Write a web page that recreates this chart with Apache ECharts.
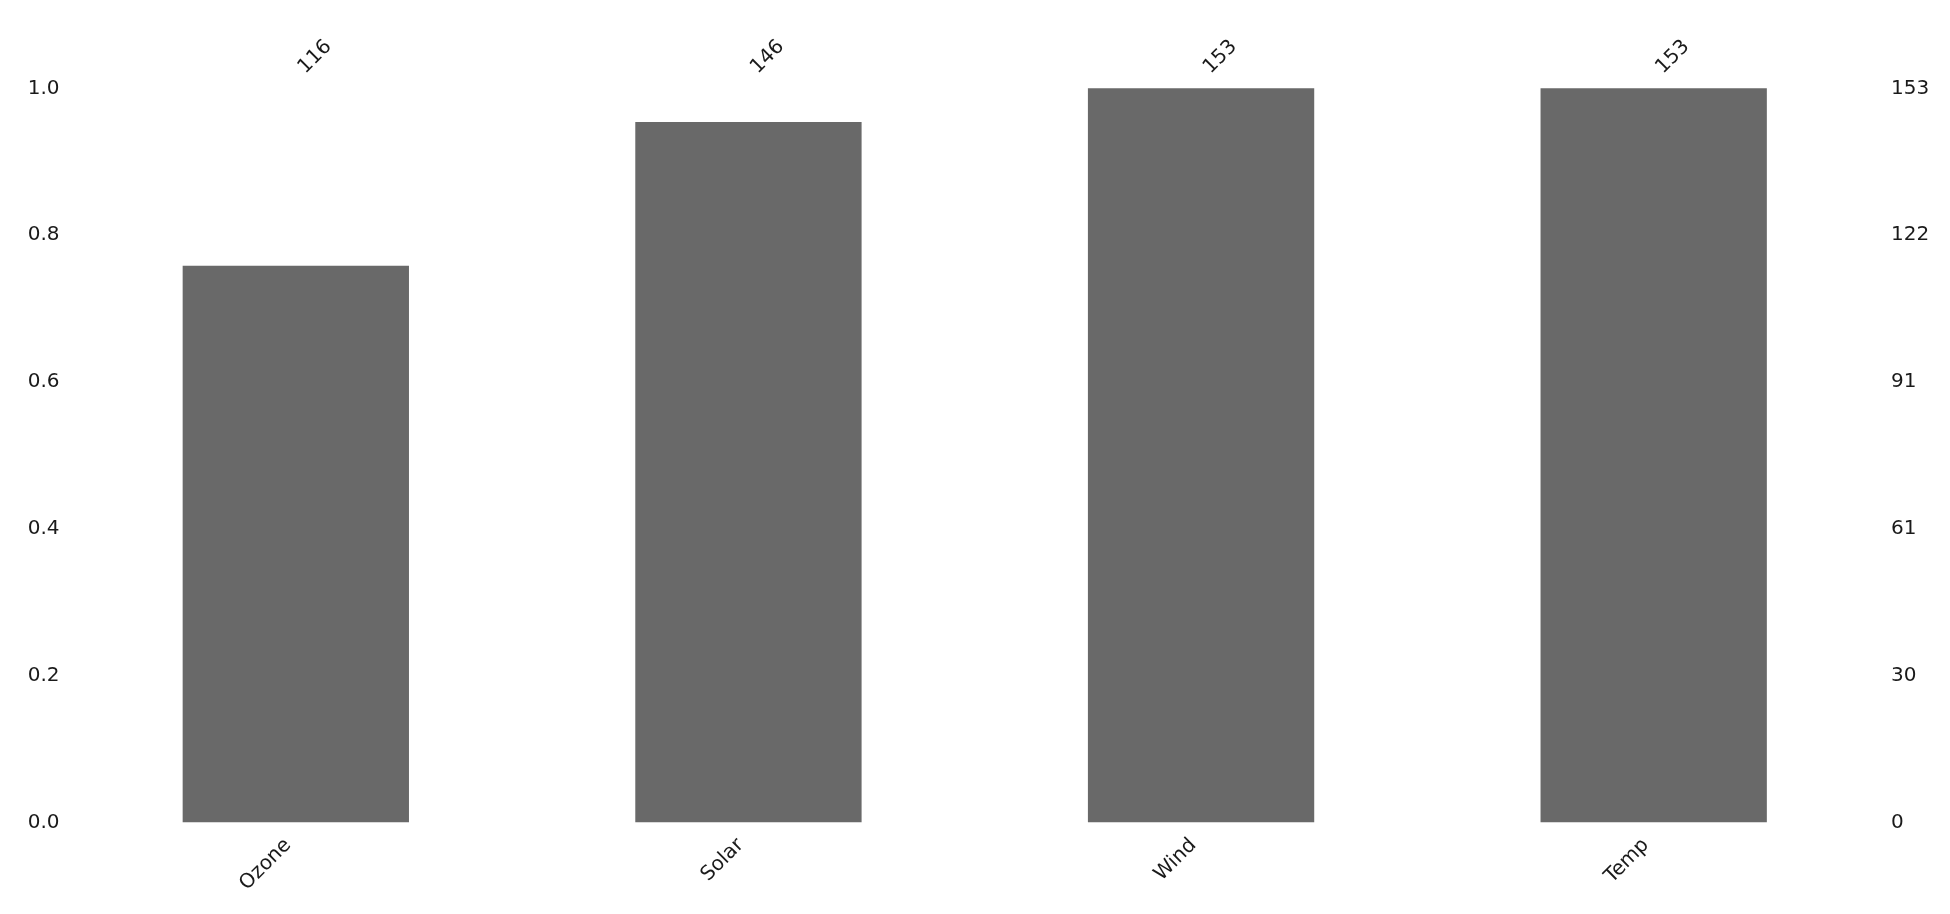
<!DOCTYPE html>
<html>
<head>
<meta charset="utf-8">
<script src="https://cdn.jsdelivr.net/npm/echarts@6/dist/echarts.min.js"></script>
<style>html,body{margin:0;padding:0;background:#fff;}#chart{width:1950px;height:914px;}</style>
</head>
<body>
<div id="chart"></div>
<script>
const categories = ['Ozone', 'Solar', 'Wind', 'Temp'];
const counts = [116, 146, 153, 153];
const totalRows = 153;
const leftTickLabels = ['0.0', '0.2', '0.4', '0.6', '0.8', '1.0'];
const rightTickLabels = ['0', '30', '61', '91', '122', '153'];

const fractions = counts.map(c => c / totalRows);
const font = 'DejaVu Sans';
const txt = '#1a1a1a';
const fs = 20;

const chart = echarts.init(document.getElementById('chart'), null, {renderer: 'canvas'});
chart.setOption({
  animation: false,
  backgroundColor: '#ffffff',
  grid: {left: 69.5, right: 70, top: 88.3, bottom: 91.7, containLabel: false},
  xAxis: [
    {
      type: 'category', position: 'bottom', data: categories,
      axisLine: {show: false}, axisTick: {show: false}, splitLine: {show: false},
      axisLabel: {rotate: 45, margin: 12, padding: [0, 11, 0, 0], fontFamily: font, fontSize: fs, color: txt, interval: 0}
    },
    {
      type: 'category', position: 'top', data: counts.map(String),
      axisLine: {show: false}, axisTick: {show: false}, splitLine: {show: false},
      axisLabel: {rotate: 45, margin: 12, padding: [0, 0, 0, 8], fontFamily: font, fontSize: fs, color: txt, interval: 0}
    }
  ],
  yAxis: [
    {
      type: 'value', position: 'left', min: 0, max: 1, interval: 0.2,
      axisLine: {show: false}, axisTick: {show: false}, splitLine: {show: false},
      axisLabel: {margin: 10, fontFamily: font, fontSize: fs, color: txt,
        formatter: v => leftTickLabels[Math.round(v / 0.2)]}
    },
    {
      type: 'value', position: 'right', min: 0, max: 1, interval: 0.2,
      axisLine: {show: false}, axisTick: {show: false}, splitLine: {show: false},
      axisLabel: {margin: 11, fontFamily: font, fontSize: fs, color: txt,
        formatter: v => rightTickLabels[Math.round(v / 0.2)]}
    }
  ],
  series: [
    {
      type: 'bar', xAxisIndex: 0, yAxisIndex: 0, data: fractions,
      barWidth: '50%',
      itemStyle: {color: '#696969'}
    }
  ]
});
</script>
</body>
</html>
